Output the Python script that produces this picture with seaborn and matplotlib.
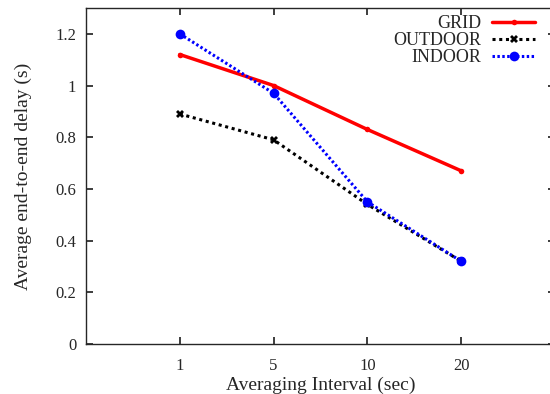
import numpy as np
import pandas as pd
import matplotlib
matplotlib.use("Agg")
import matplotlib.pyplot as plt
import seaborn as sns

# --- Data ---
intervals = ["1", "5", "10", "20"]
grid = [1.12, 1.00, 0.83, 0.67]
outdoor = [0.89, 0.79, 0.54, 0.32]
indoor = [1.20, 0.97, 0.55, 0.32]

sns.set_theme(style="ticks")
plt.rcParams.update({"font.family": ["Liberation Serif", "DejaVu Serif"],
                     "xtick.direction": "in", "ytick.direction": "in",
                     "xtick.top": True, "ytick.right": True,
                     "xtick.major.size": 5, "ytick.major.size": 5,
                     "axes.linewidth": 1.0})

pos = np.arange(len(intervals))
df = pd.DataFrame({"pos": pos, "GRID": grid, "OUTDOOR": outdoor, "INDOOR": indoor})

fig = plt.figure(figsize=(5.5, 3.94), dpi=100)
ax = fig.add_axes([86 / 550, 50 / 394, 469 / 550, 336 / 394])

sns.lineplot(data=df, x="pos", y="GRID", ax=ax, color="#ff0000", linewidth=2.5,
             marker="o", markersize=4, markeredgewidth=0, label="GRID")
sns.lineplot(data=df, x="pos", y="OUTDOOR", ax=ax, color="black", linewidth=2.2,
             linestyle=(0, (1, 1.2)), marker="X", markersize=6, markeredgewidth=0,
             label="OUTDOOR")
sns.lineplot(data=df, x="pos", y="INDOOR", ax=ax, color="#0000ff", linewidth=2.2,
             linestyle=(0, (0.8, 0.8)), marker="o", markersize=7, markeredgewidth=0,
             label="INDOOR")

ax.set_xlim(-1, 4)
ax.set_ylim(0, 1.3)
ax.set_xticks(pos)
ax.set_xticklabels(intervals)
ax.set_yticks([0, 0.2, 0.4, 0.6, 0.8, 1.0, 1.2])
ax.set_yticklabels(["0", "0.2", "0.4", "0.6", "0.8", "1", "1.2"])
ax.tick_params(axis="y", labelsize=12, pad=7)
ax.tick_params(axis="x", labelsize=12, pad=10)
ax.set_xlabel("Averaging Interval (sec)", fontsize=14, labelpad=2)
ax.set_ylabel("Average end-to-end delay (s)", fontsize=14, labelpad=17)

leg = ax.legend(loc="upper right", bbox_to_anchor=(0.966, 0.99), frameon=False,
                markerfirst=False, fontsize=13, handlelength=2.4,
                labelspacing=0.0, borderaxespad=0.0, borderpad=0.2,
                handletextpad=0.6)
for t in leg.get_texts():
    t.set_ha("right")

fig.savefig("out.png", dpi=100)
